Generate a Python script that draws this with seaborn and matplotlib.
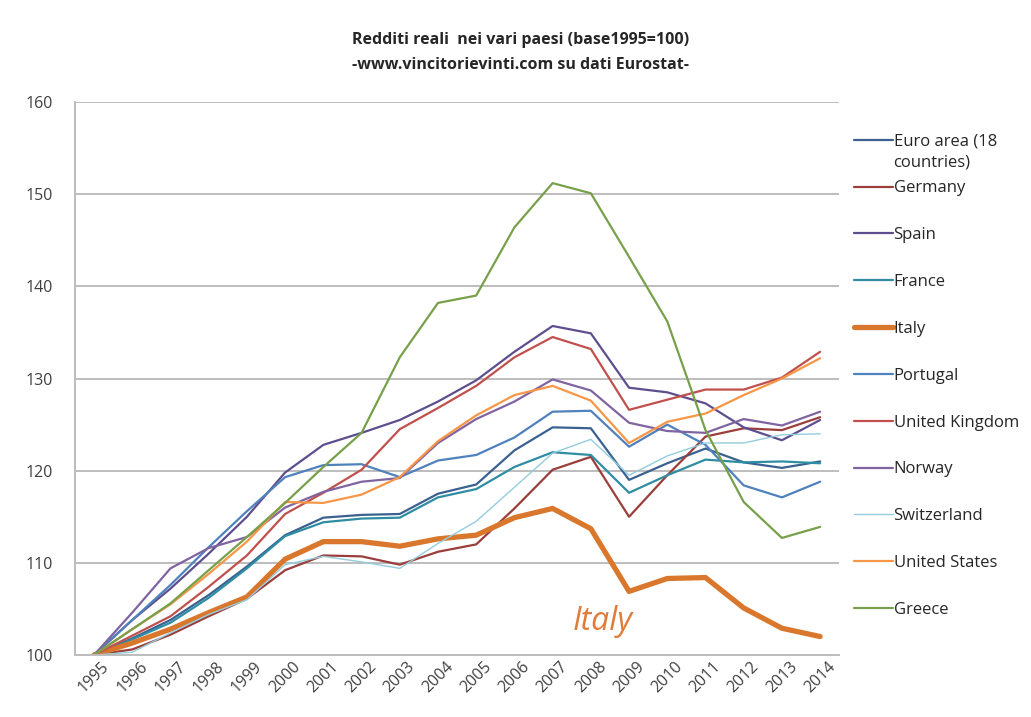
import matplotlib
matplotlib.use("Agg")
import matplotlib.pyplot as plt
import seaborn as sns
import pandas as pd

years = list(range(1995, 2015))

series_names = [
    "Euro area (18", "Germany", "Spain", "France", "Italy",
    "Portugal", "United Kingdom", "Norway", "Switzerland", "United States", "Greece",
]

euro_area = [100, 101.8, 103.8, 106.5, 109.6, 113.0, 114.9, 115.2, 115.3, 117.5,
             118.5, 122.2, 124.7, 124.6, 119.0, 120.8, 122.4, 120.9, 120.3, 121.0]
germany = [100, 100.6, 102.2, 104.2, 106.1, 109.2, 110.8, 110.7, 109.8, 111.2,
           112.0, 115.9, 120.1, 121.5, 115.0, 119.5, 123.7, 124.6, 124.4, 125.8]
spain = [100, 103.8, 107.2, 111.0, 115.0, 119.8, 122.8, 124.1, 125.5, 127.5,
         129.8, 132.9, 135.7, 134.9, 129.0, 128.5, 127.3, 124.7, 123.3, 125.5]
france = [100, 101.7, 103.5, 106.2, 109.4, 112.9, 114.4, 114.8, 114.9, 117.1,
          118.0, 120.4, 122.0, 121.7, 117.6, 119.5, 121.2, 120.9, 121.0, 120.8]
italy = [100, 101.3, 102.8, 104.6, 106.3, 110.4, 112.3, 112.3, 111.8, 112.6,
         113.0, 114.9, 115.9, 113.7, 106.9, 108.3, 108.4, 105.1, 102.9, 102.0]
portugal = [100, 103.8, 107.6, 111.7, 115.6, 119.3, 120.6, 120.7, 119.3, 121.1,
            121.7, 123.6, 126.4, 126.5, 122.6, 125.0, 122.8, 118.4, 117.1, 118.8]
united_kingdom = [100, 102.1, 104.2, 107.4, 110.8, 115.3, 117.6, 120.1, 124.5, 126.8,
                  129.2, 132.3, 134.5, 133.2, 126.6, 127.7, 128.8, 128.8, 130.1, 132.9]
norway = [100, 104.6, 109.4, 111.6, 112.8, 116.0, 117.7, 118.8, 119.2, 123.0,
          125.6, 127.5, 129.9, 128.7, 125.2, 124.3, 124.1, 125.6, 124.9, 126.4]
switzerland = [100, 100.3, 102.4, 104.4, 106.0, 109.8, 110.7, 110.1, 109.4, 112.1,
               114.5, 118.2, 121.9, 123.4, 119.5, 121.6, 123.0, 123.0, 123.9, 124.0]
united_states = [100, 102.8, 105.5, 108.8, 112.3, 116.6, 116.5, 117.4, 119.3, 123.2,
                 126.0, 128.2, 129.2, 127.6, 123.0, 125.3, 126.2, 128.2, 130.0, 132.2]
greece = [100, 102.8, 105.6, 109.2, 112.8, 116.5, 120.4, 124.1, 132.3, 138.2,
          139.0, 146.4, 151.2, 150.1, 143.2, 136.2, 124.4, 116.6, 112.7, 113.9]

y_ticks = [100, 110, 120, 130, 140, 150, 160]

values = [euro_area, germany, spain, france, italy, portugal,
          united_kingdom, norway, switzerland, united_states, greece]
colors = ["#3A6190", "#9A3E3B", "#5E4E8E", "#2F8DA3", "#D9782C", "#4F81BD",
          "#C0504D", "#8064A2", "#93CDDD", "#F79646", "#77A04A"]
widths = [1.6, 1.6, 1.6, 1.6, 3.8, 1.6, 1.6, 1.6, 1.0, 1.6, 1.6]

df = pd.DataFrame(
    [(name, yr, v) for name, vals in zip(series_names, values) for yr, v in zip(years, vals)],
    columns=["paese", "anno", "reddito"],
)

sns.set_theme(style="white")
plt.rcParams["font.family"] = ["Open Sans", "DejaVu Sans"]

fig = plt.figure(figsize=(10.31, 7.17), dpi=100)
ax = fig.add_axes([0.0727, 0.0865, 0.7413, 0.7712])

for name, col, lw in zip(series_names, colors, widths):
    sns.lineplot(data=df[df["paese"] == name], x="anno", y="reddito",
                 color=col, linewidth=lw, label=name, ax=ax)

ax.set_xlim(1994.5, 2014.5)
ax.set_ylim(100, 160)
ax.set_yticks(y_ticks)
ax.set_xticks(years)
ax.set_xticklabels([str(y) for y in years], rotation=45, ha="center")
ax.set_xlabel("")
ax.set_ylabel("")
ax.yaxis.grid(True, color="#BDBDBD", linewidth=1.4)
ax.set_axisbelow(True)
ax.tick_params(axis="y", length=0, pad=16, labelsize=11.5, labelcolor="#404040")
ax.tick_params(axis="x", length=0, pad=3, labelsize=11.5, labelcolor="#404040")
for side in ("top", "right"):
    ax.spines[side].set_visible(False)
for side in ("left", "bottom"):
    ax.spines[side].set_color("#BDBDBD")
    ax.spines[side].set_linewidth(1.4)

ax.text(2008.3, 103.6, "Italy", color="#E07B39", fontsize=23, style="italic",
        ha="center", va="center")

leg = ax.legend(loc="upper left", bbox_to_anchor=(1.01, 0.955), frameon=False,
                fontsize=12, handlelength=2.35, handletextpad=0.05,
                labelspacing=1.85, borderaxespad=0)
for t in leg.get_texts():
    t.set_color("#262626")
# second line of the euro-area label, hung right under the first
ax.annotate("countries)", xy=(0, 0), xycoords=leg.get_texts()[0],
            xytext=(0, -3.5), textcoords="offset points", ha="left", va="top",
            fontsize=12, color="#262626", zorder=10, annotation_clip=False)

fig.text(0.505, 0.944, "Redditi reali  nei vari paesi (base1995=100)",
         ha="center", va="center", fontsize=11.5, fontweight="bold", color="#262626")
fig.text(0.505, 0.91, "-www.vincitorievinti.com su dati Eurostat-",
         ha="center", va="center", fontsize=11.5, fontweight="bold", color="#262626")

fig.savefig("out.png", dpi=100, facecolor="white")
